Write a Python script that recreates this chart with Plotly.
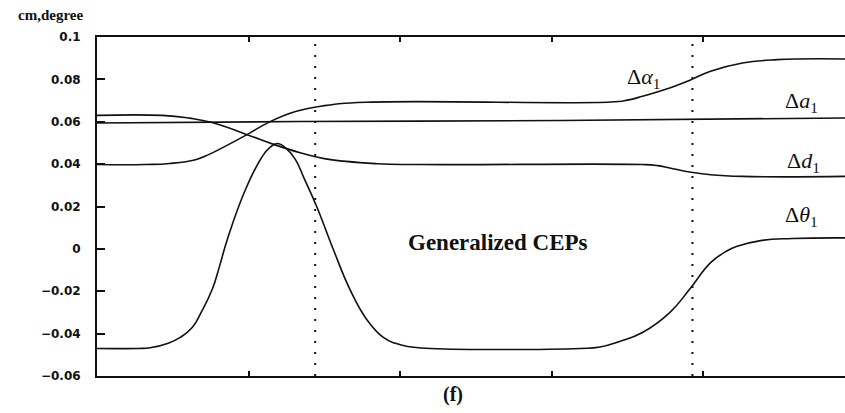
import plotly.graph_objects as go

# ---- data ----
theta_x = [0, 0.27, 0.35, 0.47, 0.55, 0.63, 0.69, 0.76, 0.81, 0.86, 0.98, 1.09, 1.14, 1.19, 1.25, 1.31, 1.37, 1.45, 1.56, 1.67, 1.78, 1.89, 1.97, 2.05, 2.20,
           3.19, 3.32, 3.45, 3.60, 3.78, 3.91, 4.05, 4.15, 4.22, 4.38, 4.59, 4.94]
theta_y = [-0.0470, -0.0470, -0.0467, -0.0445, -0.0418, -0.0370, -0.0296, -0.0192, -0.0079, 0.0044, 0.0280, 0.0435, 0.0478, 0.0497, 0.0473, 0.0421, 0.0328, 0.0200, -0.0003, -0.0192, -0.0333, -0.0418, -0.0446, -0.0461, -0.0470,
           -0.0470, -0.0463, -0.0437, -0.0395, -0.0301, -0.0192, -0.0065, -0.0013, 0.0011, 0.0039, 0.0049, 0.0052]

alpha_x = [0, 0.32, 0.48, 0.65, 0.74, 0.83, 0.99, 1.13, 1.31, 1.50, 1.78, 3.39, 3.50, 3.60, 3.78, 3.91, 4.05, 4.26, 4.49, 4.94]
alpha_y = [0.0398, 0.0398, 0.0403, 0.0421, 0.0446, 0.0478, 0.0539, 0.0596, 0.0648, 0.0676, 0.0692, 0.0693, 0.0702, 0.0720, 0.0759, 0.0795, 0.0838, 0.0877, 0.0893, 0.0896]

d_x = [0, 0.43, 0.61, 0.76, 0.99, 1.17, 1.34, 1.50, 1.85, 2.13, 3.60, 3.70, 3.78, 3.91, 4.05, 4.26, 4.94]
d_y = [0.0630, 0.0630, 0.0617, 0.0596, 0.0539, 0.0492, 0.0454, 0.0426, 0.0402, 0.0398, 0.0398, 0.0393, 0.0382, 0.0363, 0.0350, 0.0342, 0.0342]

a_x = [0, 1.34, 3.06, 4.94]
a_y = [0.0594, 0.0601, 0.0606, 0.0618]

dotted_x = [1.44, 3.93]

y_tickvals = [0.1, 0.08, 0.06, 0.04, 0.02, 0, -0.02, -0.04, -0.06]
y_ticktext = ["0.1", "0.08", "0.06", "0.04", "0.02", "0", "\u22120.02", "\u22120.04", "\u22120.06"]
x_tickvals = [0, 1, 2, 3, 4]

Y_MIN, Y_MAX = -0.06, 0.1
X_MAX = 4.937

line_style = dict(color="#111111", width=1.6, shape="spline", smoothing=1.3)

fig = go.Figure()
for xs, ys in [(a_x, a_y), (d_x, d_y), (alpha_x, alpha_y), (theta_x, theta_y)]:
    fig.add_trace(go.Scatter(x=xs, y=ys, mode="lines", line=line_style,
                             showlegend=False, hoverinfo="skip"))

for xv in dotted_x:
    fig.add_trace(go.Scatter(x=[xv, xv], y=[Y_MIN, Y_MAX], mode="lines",
                             line=dict(color="#111111", width=2, dash="2px,9px"),
                             showlegend=False, hoverinfo="skip"))

serif = "Liberation Serif, Times New Roman, serif"
label_font = dict(family=serif, size=22, color="#111111")

labels = [
    (3.485, 0.0805, "\u0394<i>\u03b1</i><sub>1</sub>"),
    (4.528, 0.0692, "\u0394<i>a</i><sub>1</sub>"),
    (4.540, 0.0409, "\u0394<i>d</i><sub>1</sub>"),
    (4.528, 0.0155, "\u0394<i>\u03b8</i><sub>1</sub>"),
]
annotations = []
for lx, ly, txt in labels:
    annotations.append(dict(x=lx, y=ly, xref="x", yref="y", text=txt, showarrow=False,
                            xanchor="left", yanchor="middle", font=label_font))

annotations.append(dict(x=2.647, y=0.003, xref="x", yref="y", text="<b>Generalized CEPs</b>",
                        showarrow=False, xanchor="center", yanchor="middle",
                        font=dict(family=serif, size=23, color="#111111")))
annotations.append(dict(x=0.476, y=-0.056, xref="paper", yref="paper", text="<b>(f)</b>",
                        showarrow=False, xanchor="center", yanchor="middle",
                        font=dict(family=serif, size=20, color="#111111")))
annotations.append(dict(x=-0.0628, y=1.065, xref="paper", yref="paper", text="<b>cm,degree</b>",
                        showarrow=False, xanchor="center", yanchor="middle",
                        font=dict(family=serif, size=15, color="#111111")))

fig.update_layout(
    width=845, height=413,
    margin=dict(l=97, r=0, t=37, b=37),
    paper_bgcolor="white", plot_bgcolor="white",
    annotations=annotations,
    xaxis=dict(range=[0, X_MAX], tickvals=x_tickvals, showticklabels=False,
               ticks="inside", ticklen=5, tickcolor="#111111", tickwidth=1.5,
               showline=True, linecolor="#111111", linewidth=2, mirror="ticks",
               showgrid=False, zeroline=False),
    yaxis=dict(range=[Y_MIN, Y_MAX], tickvals=y_tickvals, ticktext=y_ticktext,
               ticks="inside", ticklen=8, tickcolor="#111111", tickwidth=1.5,
               showline=True, linecolor="#111111", linewidth=2, mirror=False,
               showgrid=False, zeroline=False, ticklabelstandoff=12,
               tickfont=dict(family="DejaVu Sans", size=12, color="#111111", weight="bold")),
)

fig.write_html("out.html")
